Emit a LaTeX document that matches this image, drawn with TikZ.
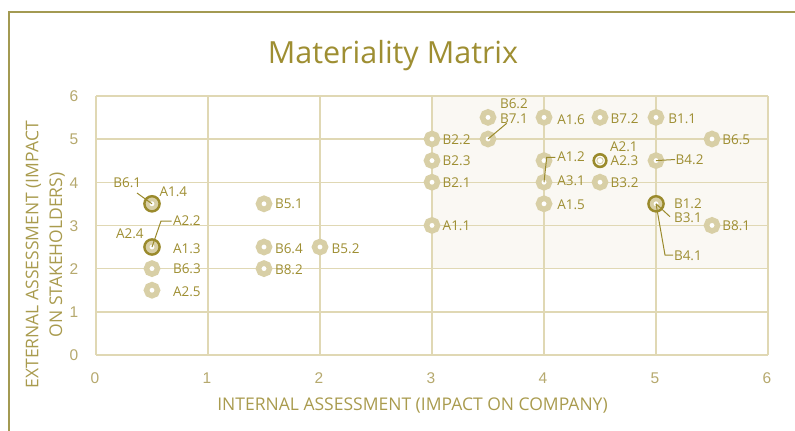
\documentclass[tikz,border=0pt]{standalone}
\usepackage{fontspec}
\setmainfont{Open Sans}
\newfontfamily\tickfont{Liberation Sans}
\definecolor{gridc}{HTML}{E0D8B4}
\definecolor{mkc}{HTML}{D8CFA6}
\definecolor{dkc}{HTML}{9A8A2C}
\definecolor{txtc}{HTML}{9E8E32}
\definecolor{tickc}{HTML}{B6A96E}
\definecolor{axc}{HTML}{A99B4E}
\definecolor{framec}{HTML}{A39A52}
\definecolor{shadec}{HTML}{FAF8F3}
\begin{document}
\begin{tikzpicture}[x=1bp,y=-1bp,
  lbl/.style={anchor=west,inner sep=0,outer sep=0,text=txtc,font=\fontsize{13.5bp}{16bp}\selectfont},
  tick/.style={inner sep=0,outer sep=0,text=tickc,font=\tickfont\fontsize{15.5bp}{18bp}\selectfont},
  axtitle/.style={inner sep=0,outer sep=0,text=axc,font=\fontsize{17.5bp}{20bp}\selectfont,anchor=base},
  gridl/.style={draw=gridc,line width=1.4bp},
  mk/.style={circle,draw=mkc,line width=5.5bp,fill=white,minimum size=11.1bp,inner sep=0,outer sep=0},
  dkring/.style={circle,draw=dkc,line width=2.4bp,minimum size=15.2bp,inner sep=0,outer sep=0},
  dkring2/.style={circle,draw=dkc,line width=2.6bp,fill=white,minimum size=12.6bp,inner sep=0,outer sep=0},
  thinring/.style={circle,draw=mkc,line width=1bp,minimum size=6.4bp,inner sep=0,outer sep=0},
  ldr/.style={draw=dkc,line width=1bp}]
\useasboundingbox (0,0) rectangle (795,430);
% frame
\draw[framec,line width=1.6bp] (9,432) -- (9,12) -- (797,12);
% title
\node[inner sep=0,text=txtc,font=\fontsize{30.5bp}{34bp}\selectfont,anchor=base] (title) at (393,63.3) {Materiality Matrix};
\begin{scope}[shift={(96,355)},x=112bp,y=43.2bp]
  \fill[shadec] (3,2) rectangle (6,6);
  \foreach \i in {0,...,6} {
    \draw[gridl] (\i,0) -- (\i,6);
    \draw[gridl] (0,\i) -- (6,\i);
  }
  % markers
  \node[mk] (mA14) at (0.5,3.5) {};
  \node[mk] (mA13) at (0.5,2.5) {};
  \node[mk] (mB63) at (0.5,2) {};
  \node[mk] (mA25) at (0.5,1.5) {};
  \node[mk] (mB51) at (1.5,3.5) {};
  \node[mk] (mB64) at (1.5,2.5) {};
  \node[mk] (mB52) at (2,2.5) {};
  \node[mk] (mB82) at (1.5,2) {};
  \node[mk] (mB22) at (3,5) {};
  \node[mk] (mB23) at (3,4.5) {};
  \node[mk] (mB21) at (3,4) {};
  \node[mk] (mA11) at (3,3) {};
  \node[mk] (mB62) at (3.5,5.5) {};
  \node[mk] (mB71) at (3.5,5) {};
  \node[mk] (mA16) at (4,5.5) {};
  \node[mk] (mB72) at (4.5,5.5) {};
  \node[mk] (mB11) at (5,5.5) {};
  \node[mk] (mB65) at (5.5,5) {};
  \node[mk] (mA12) at (4,4.5) {};
  \node[mk] (mA31) at (4,4) {};
  \node[mk] (mA15) at (4,3.5) {};
  \node[mk] (mB32) at (4.5,4) {};
  \node[mk] (mB42) at (5,4.5) {};
  \node[mk] (mB12) at (5,3.5) {};
  \node[mk] (mB81) at (5.5,3) {};
  \node[dkring] (dA14) at (0.5,3.5) {};
  \node[dkring] (dA13) at (0.5,2.5) {};
  \node[dkring] (dB12) at (5,3.5) {};
  \node[dkring2] (mA23) at (4.5,4.5) {};
  \node[thinring] (tA23) at (4.5,4.5) {};
\end{scope}
% ticks
\foreach \i in {0,...,6} {
  \node[tick] (xt\i) at ({95+112*\i},378.5) {\i};
  \node[tick] (yt\i) at (74,{355.5-43.2*\i}) {\i};
}
% axis titles
\node[axtitle] (xtitle) at (412.5,410) {INTERNAL ASSESSMENT (IMPACT ON COMPANY)};
\node[axtitle,rotate=90] (ytitle1) at (38.3,254.8) {EXTERNAL ASSESSMENT (IMPACT};
\node[axtitle,rotate=90] (ytitle2) at (62,254.8) {ON STAKEHOLDERS)};
% labels
\node[lbl] (lB61) at (113.3,182.3) {B6.1};
\node[lbl] (lA14) at (159.5,192) {A1.4};
\node[lbl] (lA24) at (116,234) {A2.4};
\node[lbl] (lA22) at (173,221) {A2.2};
\node[lbl] (lA13) at (173,249) {A1.3};
\node[lbl] (lB63) at (173,269) {B6.3};
\node[lbl] (lA25) at (173,291.5) {A2.5};
\node[lbl] (lB51) at (275,204) {B5.1};
\node[lbl] (lB64) at (275,249) {B6.4};
\node[lbl] (lB52) at (331.7,249) {B5.2};
\node[lbl] (lB82) at (275,269.3) {B8.2};
\node[lbl] (lB22) at (442.7,140) {B2.2};
\node[lbl] (lB23) at (442.7,161) {B2.3};
\node[lbl] (lB21) at (442.7,182.7) {B2.1};
\node[lbl] (lA11) at (442.7,225.7) {A1.1};
\node[lbl] (lB62) at (500,103.8) {B6.2};
\node[lbl] (lB71) at (500,119) {B7.1};
\node[lbl] (lA16) at (557.3,119.3) {A1.6};
\node[lbl] (lB72) at (610.7,119) {B7.2};
\node[lbl] (lB11) at (668.3,119) {B1.1};
\node[lbl] (lB65) at (722.3,140) {B6.5};
\node[lbl] (lA12) at (557.3,157) {A1.2};
\node[lbl] (lA31) at (557.3,180.7) {A3.1};
\node[lbl] (lA15) at (557.3,204.3) {A1.5};
\node[lbl] (lA21) at (610,147) {A2.1};
\node[lbl] (lA23) at (610.7,161) {A2.3};
\node[lbl] (lB32) at (610.7,182.7) {B3.2};
\node[lbl] (lB42) at (675.7,160) {B4.2};
\node[lbl] (lB12) at (674,204) {B1.2};
\node[lbl] (lB31) at (674,217.3) {B3.1};
\node[lbl] (lB41) at (674,256) {B4.1};
\node[lbl] (lB81) at (722.3,225.7) {B8.1};
% leader ends
\coordinate (eB61) at (137,193);
\coordinate (kA22) at (161,221);
\coordinate (eA22) at (171.5,221);
\coordinate (eB71) at (506.7,123.3);
\coordinate (kA12) at (546.7,157.3);
\coordinate (eA12) at (555.3,157.3);
\coordinate (eB42) at (675,159.5);
\coordinate (eB31) at (670,216.7);
\coordinate (kB41) at (665,255);
\coordinate (eB41) at (673,255);
% leaders
\draw[ldr] (mA14.center) -- (eB61);
\draw[ldr] (mA13.center) -- (kA22) -- (eA22);
\draw[ldr] (mB71.center) -- (eB71);
\draw[ldr] (mA31.center) -- (kA12) -- (eA12);
\draw[ldr] (mB42.center) -- (eB42);
\draw[ldr] (mB12.center) -- (eB31);
\draw[ldr] (mB12.center) -- (kB41) -- (eB41);
\end{tikzpicture}
\end{document}
